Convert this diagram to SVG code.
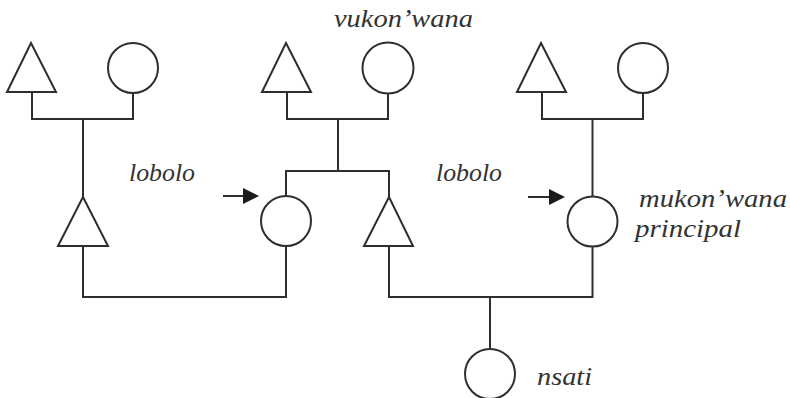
<svg xmlns="http://www.w3.org/2000/svg" width="790" height="398" viewBox="0 0 790 398">
<defs>
<style>
.n{fill:none;stroke:#2e2e2e;stroke-width:2}
.c{fill:none;stroke:#2e2e2e;stroke-width:2}
.t{font-family:"Liberation Serif","DejaVu Serif",serif;font-style:italic;font-size:25px;fill:#333}
.ah{fill:#1a1a1a}
</style>
</defs>
<rect width="790" height="398" fill="#fff"/>
<g id="connectors">
<polyline class="c" points="32,92 32,119 133,119 133,93"/>
<line class="c" x1="83" y1="119" x2="83" y2="197"/>
<polyline class="c" points="287,92 287,119 388,119 388,94"/>
<line class="c" x1="338" y1="119" x2="338" y2="171"/>
<polyline class="c" points="286,196 286,171 389,171 389,197"/>
<polyline class="c" points="542,92 542,119 643,119 643,93"/>
<line class="c" x1="592.5" y1="119" x2="592.5" y2="196"/>
<polyline class="c" points="83,246 83,297 286,297 286,246"/>
<polyline class="c" points="389,246 389,297 592.5,297 592.5,247"/>
<line class="c" x1="490" y1="297" x2="490" y2="349"/>
<g id="arrow1"><line class="c" x1="223" y1="196" x2="245" y2="196"/><polygon class="ah" points="243,188 259,196 243,204"/></g>
<g id="arrow2"><line class="c" x1="528" y1="197" x2="550" y2="197"/><polygon class="ah" points="549,189 565,197 549,205"/></g>
</g>
<g id="n1"><polygon class="n" points="31,43 7,92 56,92"/></g>
<g id="n2"><circle class="n" cx="133" cy="68" r="25"/></g>
<g id="n3"><polygon class="n" points="286,43 262,92 311,92"/></g>
<g id="n4"><circle class="n" cx="388" cy="68" r="25.5"/></g>
<g id="n5"><polygon class="n" points="541,43 517,92 566,92"/></g>
<g id="n6"><circle class="n" cx="643" cy="68" r="25"/></g>
<g id="n7"><polygon class="n" points="83,197 58,246 108,246"/></g>
<g id="n8"><circle class="n" cx="286" cy="221" r="25"/></g>
<g id="n9"><polygon class="n" points="389,197 364,246 413,246"/></g>
<g id="n10"><circle class="n" cx="592.5" cy="221.5" r="25"/></g>
<g id="n11"><circle class="n" cx="490" cy="374" r="25"/></g>
<g id="labels">
<text class="t" x="334" y="27" textLength="139" lengthAdjust="spacingAndGlyphs">vukon’wana</text>
<text class="t" x="129" y="181" textLength="66" lengthAdjust="spacingAndGlyphs">lobolo</text>
<text class="t" x="436" y="181" textLength="66" lengthAdjust="spacingAndGlyphs">lobolo</text>
<text class="t" x="639" y="207" textLength="148" lengthAdjust="spacingAndGlyphs">mukon’wana</text>
<text class="t" x="635" y="237" textLength="106" lengthAdjust="spacingAndGlyphs">principal</text>
<text class="t" x="537" y="385" textLength="55" lengthAdjust="spacingAndGlyphs">nsati</text>
</g>
</svg>
